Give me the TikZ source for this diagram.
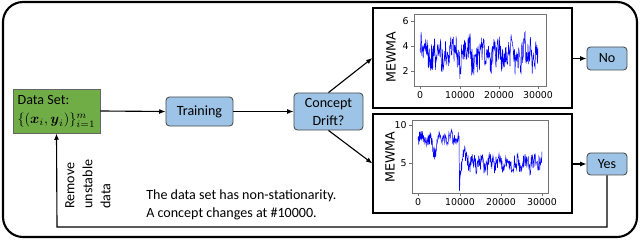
\documentclass[tikz,border=0pt]{standalone}
\usepackage{amsmath}
\usepackage{fontspec}
\setmainfont{Carlito}
\newfontfamily\plotfont{DejaVu Sans}
\usetikzlibrary{arrows.meta}
\definecolor{boxblue}{HTML}{9DC3E6}
\definecolor{boxgreen}{HTML}{70AD47}

\begin{document}
\begin{tikzpicture}[x=0.025cm, y=-0.025cm,
    font=\fontsize{10}{12.8}\selectfont,
    stepnode/.style={draw=black!70, line width=0.6pt, rounded corners=2.5pt, fill=boxblue, inner sep=1pt, align=center},
    datanode/.style={draw=black!60, line width=0.6pt, fill=boxgreen, inner sep=1pt, align=left},
    plotframe/.style={draw=black, line width=0.8pt, inner sep=0pt},
    conn/.style={line width=0.8pt, -{Latex[length=4.5pt,width=3.5pt]}},
    axisframe/.style={draw=black!55, line width=0.4pt},
    ticklabel/.style={font=\plotfont\fontsize{6.7}{8}\selectfont, inner sep=1.5pt},
    axislabel/.style={font=\plotfont\fontsize{9}{10}\selectfont, rotate=90},
    signal/.style={blue, line width=0.35pt}]
    \useasboundingbox (0,0) rectangle (640,241);

    % frame round everything
    \draw[line width=1.5pt, rounded corners=0.5cm] (3,2) rectangle (637,237);

    % main steps
    \node[datanode, minimum width=2.175cm, minimum height=1.1cm] (data) at (56.5,111)
      {Data Set:\\[1pt]$\{(\boldsymbol{x}_i,\boldsymbol{y}_i)\}_{i=1}^{m}$};
    \node[stepnode, minimum width=1.675cm, minimum height=0.725cm] (train) at (199.5,111.5) {Training};
    \node[stepnode, minimum width=1.725cm, minimum height=0.925cm] (drift) at (328.5,111.5) {Concept\\Drift?};

    % MEWMA charts
    \node[plotframe, minimum width=4.975cm, minimum height=2.5cm] (top) at (472.5,58) {};
    \node[plotframe, minimum width=4.975cm, minimum height=2.475cm] (bot) at (472.5,163.5) {};

    \node[stepnode, minimum width=1cm, minimum height=0.575cm] (no) at (607,58.5) {No};
    \node[stepnode, minimum width=1cm, minimum height=0.55cm] (yes) at (607,164) {Yes};

    % stationary chart
    \draw[axisframe] (414,14) rectangle (546,86);
    \foreach \v/\yy in {6/21, 4/46, 2/71}{
      \draw[axisframe] (414,\yy) -- (411,\yy) node[left, ticklabel] (ty\v) {\v};
    }
    \foreach \t/\xx in {0/420, 10000/460, 20000/499, 30000/538}{
      \draw[axisframe] (\xx,86) -- (\xx,89) node[below, ticklabel] (tx\t) {\t};
    }
    \node[axislabel] (ytop) at (391,57) {MEWMA};
    \pgfmathsetseed{7}
    \draw[signal] plot[domain=0:30, samples=330]
      ({420+\x*3.933}, {21+(6-(3.3+1.05*rand+0.5*sin(\x*97)+0.4*sin(\x*233+40)+0.3*sin(\x*517)))*12.5});

    % chart with the drift
    \draw[axisframe] (412,120) rectangle (548,193);
    \foreach \v/\yy in {10/125, 5/163}{
      \draw[axisframe] (412,\yy) -- (409,\yy) node[left, ticklabel] (by\v) {\v};
    }
    \foreach \t/\xx in {0/418, 10000/460, 20000/501, 30000/542}{
      \draw[axisframe] (\xx,193) -- (\xx,196) node[below, ticklabel] (bx\t) {\t};
    }
    \node[axislabel] (ybot) at (390,157) {MEWMA};
    \pgfmathsetseed{3}
    \draw[signal] plot[domain=0:30, samples=330]
      ({418+\x*4.133}, {125+(10-(\x<10 ? 8.0+0.9*rand+0.4*sin(\x*150)-1.6*exp(-min(1.5*(\x-4)^2,20))+0.05*\x
        : 4.9+1.05*rand+0.4*sin(\x*170)+0.3*sin(\x*420+60)-3.3*exp(-max(\x-10,0)*4)+1.4*exp(-min(((\x-11.3)/0.7)^2,20))))*7.6});

    % arrows
    \draw[conn] (data.east) -- (train.west);
    \draw[conn] (train.east) -- (drift.west);
    \draw[conn] (drift.north) -- (top.west);
    \draw[conn] (drift.south) -- (bot.west);
    \draw[conn] (top.east |- no.west) -- (no.west);
    \draw[conn] (bot.east |- yes.west) -- (yes.west);

    % back to the data set
    \coordinate (back) at (57,227);
    \draw[conn] (yes.south) |- (back) -- (data.south);
    \node[rotate=90, anchor=north west, align=left, inner sep=0pt] (remove) at (65,209)
      {Remove\\unstable\\data};

    \node[anchor=west, align=left, inner sep=0pt] (note) at (146,205)
      {The data set has non-stationarity.\\A concept changes at \#10000.};

  \end{tikzpicture}
\end{document}
